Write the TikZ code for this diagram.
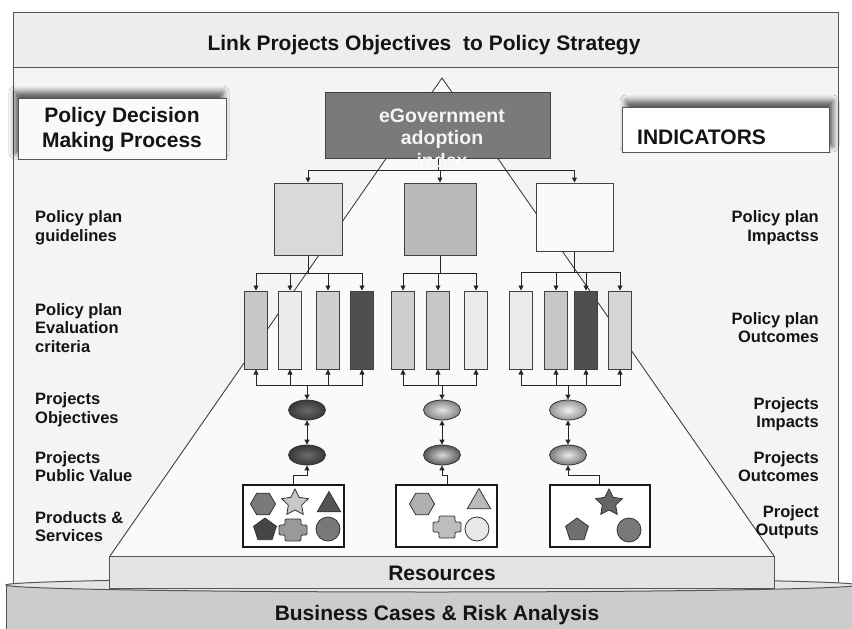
\documentclass[tikz,border=0pt]{standalone}
\usepackage{fontspec}
\setmainfont{Liberation Sans}
\usetikzlibrary{shapes.geometric,arrows.meta,shadows.blur}
\definecolor{framefill}{HTML}{F4F4F4}
\definecolor{titlefill}{HTML}{EDEDED}
\definecolor{trifill}{HTML}{FAFAFA}
\definecolor{linegray}{HTML}{555555}
\begin{document}
\begin{tikzpicture}[x=1pt,y=-1pt,
  lab/.style={font=\fontsize{16.5}{18.5}\selectfont\bfseries, inner sep=0pt, text=black!92},
  leftlab/.style={lab, anchor=north west, align=left},
  rightlab/.style={lab, anchor=north east, align=right},
  bigtext/.style={font=\fontsize{21}{25}\selectfont\bfseries, inner sep=0pt, text=black!92},
  sq/.style={draw=black!75, line width=1pt, inner sep=0pt},
  bar/.style={draw=black!75, line width=1pt, inner sep=0pt, minimum width=23pt, minimum height=78pt},
  oval/.style={ellipse, draw=black!80, line width=0.8pt, inner sep=0pt, minimum width=37pt, minimum height=20pt, shading=radial},
  prodbox/.style={draw=black!90, line width=2.5pt, fill=white, inner sep=0pt, minimum height=62pt},
  arr/.style={draw=black!85, line width=0.9pt, -{Triangle[length=5pt,width=5pt]}},
  dblarr/.style={draw=black!85, line width=0.9pt, {Triangle[length=5pt,width=5pt]}-{Triangle[length=5pt,width=5pt]}},
  conn/.style={draw=black!85, line width=0.9pt},
  shp/.style={draw=black!80, line width=0.8pt, inner sep=0pt},
  hexa/.style={shp, regular polygon, regular polygon sides=6, minimum size=25pt},
  penta/.style={shp, regular polygon, regular polygon sides=5, minimum size=24pt},
  tri/.style={shp, regular polygon, regular polygon sides=3, minimum size=27pt},
  starshape/.style={shp, star, star points=5, star point ratio=2.0, minimum size=28pt},
  circ/.style={shp, circle, minimum size=24pt},
  plusshape/.pic={\draw[pic actions, line width=0.8pt, rounded corners=1.2pt]
     (-14,-5) -- (-8,-5) -- (-8,-11) -- (8,-11) -- (8,-5) -- (14,-5) -- (14,5)
     -- (8,5) -- (8,11) -- (-8,11) -- (-8,5) -- (-14,5) -- cycle;}
]
\useasboundingbox (0,0) rectangle (852,629);
\fill[white] (0,0) rectangle (852,629);

% outer frame and title band
\draw[draw=linegray, line width=1pt, fill=framefill] (13,12) rectangle (838,600);
\draw[draw=linegray, line width=1pt, fill=titlefill] (13,12) rectangle (838,67);
\node[bigtext, anchor=base] (title) at (424,50) {Link Projects Objectives~ to Policy Strategy};

% big triangle
\coordinate (apex) at (442,78);
\coordinate (tl) at (110,556);
\coordinate (tr) at (774,556);
\draw[draw=black!75, line width=0.9pt, fill=trifill] (tl) -- (apex) -- (tr);

% cylinder base
\fill[black!20] (6,585) -- (6,629) -- (858,629) -- (858,585) -- cycle;
\draw[draw=linegray, line width=1pt] (6,585) -- (6,629);
\draw[draw=linegray, line width=1pt, fill=black!10] (432,585) ellipse [x radius=426pt, y radius=7pt];
\node[bigtext, anchor=base] (bcra) at (437,620) {Business Cases \& Risk Analysis};

% resources
\node[draw=linegray, line width=1pt, fill=black!11, inner sep=0pt, minimum width=665pt, minimum height=32pt] (res) at (442,572) {};
\node[bigtext, anchor=base] (restext) at (442,580) {Resources};

% side boxes
\node[draw=linegray, line width=1pt, fill=trifill, inner sep=0pt, minimum width=208pt, minimum height=61pt,
  blur shadow={shadow xshift=-3pt, shadow yshift=6pt, shadow blur radius=6pt, shadow opacity=65}] (pdmp) at (122,128.5) {};
\node[bigtext, align=center] (pdmptext) at (122,130) {Policy Decision\\Making Process};
\node[draw=linegray, line width=1pt, fill=white, inner sep=0pt, minimum width=207pt, minimum height=45pt,
  blur shadow={shadow xshift=4pt, shadow yshift=6pt, shadow blur radius=6pt, shadow opacity=65}] (ind) at (725.5,129.5) {};
\node[bigtext, anchor=west] (indtext) at (637,137.5) {INDICATORS};

% left labels
\node[leftlab] (l1) at (35,210.5) {Policy plan\\guidelines};
\node[leftlab] (l2) at (35,303) {Policy plan\\Evaluation\\criteria};
\node[leftlab] (l3) at (35,392.5) {Projects\\Objectives};
\node[leftlab] (l4) at (35,451) {Projects\\Public Value};
\node[leftlab] (l5) at (35,511) {Products \&\\Services};
% right labels
\node[rightlab] (r1) at (819,210.5) {Policy plan\\Impactss};
\node[rightlab] (r2) at (819,312) {Policy plan\\Outcomes};
\node[rightlab] (r3) at (819,397) {Projects\\Impacts};
\node[rightlab] (r4) at (819,451) {Projects\\Outcomes};
\node[rightlab] (r5) at (819,505) {Project\\Outputs};

% eGovernment box
\node[draw=black!75, line width=1pt, fill=black!52, inner sep=0pt, minimum width=225pt, minimum height=66pt] (eg) at (437.5,125) {};

% top level connectors
\coordinate (j0) at (438,170);
\node[sq, fill=black!15, minimum width=68pt, minimum height=72pt] (sqA) at (308,219) {};
\node[sq, fill=black!27, minimum width=72pt, minimum height=72pt] (sqB) at (440,219) {};
\node[sq, fill=black!2, minimum width=77pt, minimum height=68pt] (sqC) at (574.5,217) {};
\draw[conn] (eg.south -| j0) -- (j0);
\draw[arr] (j0) -| (sqA.north);
\draw[arr] (j0) -| (sqB.north);
\draw[arr] (j0) -| (sqC.north);

% bars
\node[bar, fill=black!22] (a1) at (256,330) {};
\node[bar, fill=black!8]  (a2) at (290,330) {};
\node[bar, fill=black!19] (a3) at (328,330) {};
\node[bar, fill=black!69] (a4) at (362,330) {};
\node[bar, fill=black!19] (b1) at (403,330) {};
\node[bar, fill=black!22] (b2) at (438,330) {};
\node[bar, fill=black!8]  (b3) at (476,330) {};
\node[bar, fill=black!8]  (c1) at (521,330) {};
\node[bar, fill=black!22] (c2) at (556,330) {};
\node[bar, fill=black!69] (c3) at (586,330) {};
\node[bar, fill=black!16] (c4) at (620,330) {};

\coordinate (ta) at (308,273);
\coordinate (tb) at (440,273);
\coordinate (tc) at (574.5,272);
\draw[conn] (sqA.south) -- (ta);
\draw[conn] (sqB.south) -- (tb);
\draw[conn] (sqC.south) -- (tc);
\foreach \b in {a1,a2,a3,a4} \draw[arr] (ta) -| (\b.north);
\foreach \b in {b1,b2,b3} \draw[arr] (tb) -| (\b.north);
\foreach \b in {c1,c2,c3,c4} \draw[arr] (tc) -| (\b.north);

% ellipses
\node[oval, inner color=black!58, outer color=black!78] (ea1) at (307,410) {};
\node[oval, inner color=black!10, outer color=black!48] (eb1) at (442,410) {};
\node[oval, inner color=black!5, outer color=black!42] (ec1) at (568,410) {};
\node[oval, inner color=black!58, outer color=black!78] (ea2) at (307,455) {};
\node[oval, inner color=black!15, outer color=black!65] (eb2) at (442,455) {};
\node[oval, inner color=black!8, outer color=black!52] (ec2) at (568,455) {};

\coordinate (ua) at (307,385);
\coordinate (ub) at (442,385);
\coordinate (uc) at (568,385);
\foreach \b in {a1,a2,a3,a4} \draw[arr] (ua) -| (\b.south);
\foreach \b in {b1,b2,b3} \draw[arr] (ub) -| (\b.south);
\foreach \b in {c1,c2,c3,c4} \draw[arr] (uc) -| (\b.south);
\draw[arr] (ua) -- (ea1.north);
\draw[arr] (ub) -- (eb1.north);
\draw[arr] (uc) -- (ec1.north);
\draw[dblarr] (ea1.south) -- (ea2.north);
\draw[dblarr] (eb1.south) -- (eb2.north);
\draw[dblarr] (ec1.south) -- (ec2.north);

% product boxes
\node[prodbox, minimum width=101pt] (pb1) at (293.5,516) {};
\node[prodbox, minimum width=101pt] (pb2) at (446.5,516) {};
\node[prodbox, minimum width=100pt] (pb3) at (600,516) {};
\coordinate (va) at (293,475);
\coordinate (vb) at (447,475);
\coordinate (vc) at (599,475);
\draw[arr] (pb1.north -| va) -- (va) -| (ea2.south);
\draw[arr] (pb2.north -| vb) -- (vb) -| (eb2.south);
\draw[arr] (pb3.north -| vc) -- (vc) -| (ec2.south);

% shapes in box 1
\node[hexa, fill=black!52] (h1) at (263,504) {};
\node[starshape, fill=black!22] (s1) at (295,503) {};
\node[tri, fill=black!67] (t1) at (329,505) {};
\node[penta, fill=black!73] (p1) at (265,530) {};
\pic[fill=black!40, draw=black!80] (x1) at (293,530) {plusshape};
\node[circ, fill=black!53] (o1) at (328,529) {};
% shapes in box 2
\node[hexa, fill=black!31] (h2) at (422,504) {};
\node[tri, fill=black!27] (t2) at (479,502) {};
\pic[fill=black!26, draw=black!80] (x2) at (447,527) {plusshape};
\node[circ, fill=black!9] (o2) at (477,529) {};
% shapes in box 3
\node[starshape, fill=black!60] (s3) at (609,503) {};
\node[penta, fill=black!56] (p3) at (577,530) {};
\node[circ, fill=black!53] (o3) at (629,530) {};

% eGovernment text (overflows box)
\node[font=\fontsize{19.5}{22.5}\selectfont\bfseries, text=black!4, align=center, inner sep=0pt] (egtext) at (442,138) {eGovernment\\adoption\\index};
\end{tikzpicture}
\end{document}
